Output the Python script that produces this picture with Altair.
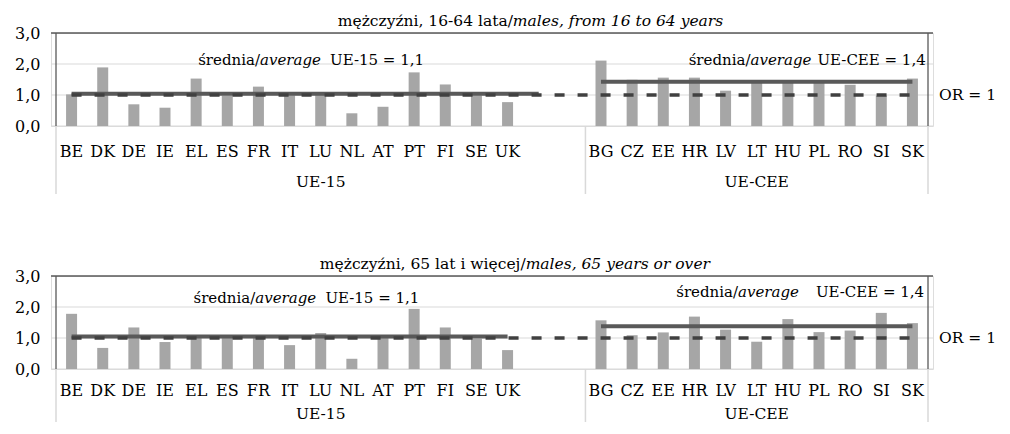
import altair as alt
import pandas as pd

# ---------------- data ----------------
countries_ue15 = ["BE", "DK", "DE", "IE", "EL", "ES", "FR", "IT", "LU", "NL", "AT", "PT", "FI", "SE", "UK"]
countries_cee = ["BG", "CZ", "EE", "HR", "LV", "LT", "HU", "PL", "RO", "SI", "SK"]

young_ue15 = [1.02, 1.89, 0.70, 0.59, 1.53, 0.98, 1.27, 0.99, 1.00, 0.41, 0.62, 1.73, 1.34, 0.99, 0.77]
young_cee = [2.11, 1.49, 1.56, 1.56, 1.14, 1.45, 1.47, 1.46, 1.33, 0.98, 1.53]
old_ue15 = [1.78, 0.68, 1.34, 0.87, 1.00, 1.00, 1.00, 0.77, 1.16, 0.33, 1.00, 1.94, 1.34, 0.98, 0.61]
old_cee = [1.57, 1.09, 1.18, 1.69, 1.27, 0.88, 1.61, 1.19, 1.24, 1.81, 1.48]

avg_young = [1.04, 1.43]
avg_old = [1.05, 1.38]
groups = ["UE-15", "UE-CEE"]
y_ticks = [0, 1, 2, 3]

# slot positions on the category axis (two empty slots after UK)
slots_ue15 = list(range(15))
slots_cee = list(range(17, 28))

FONT = "DejaVu Serif"
W, H = 882, 93
BAR = "#a6a6a6"
LIGHT = "#d9d9d9"
FRAME = "#595959"
XS = alt.Scale(domain=[-0.5, 27.5], nice=False, zero=False)
YS = alt.Scale(domain=[0, 3], nice=False)
YAX = alt.Axis(
    values=y_ticks, grid=False, ticks=False, domain=False,
    labelExpr="replace(format(datum.value, '.1f'), '.', ',')",
    labelFont=FONT, labelFontSize=16, labelColor="black",
    labelPadding=11, minExtent=42, maxExtent=42, title=None)


def xq(f="x"):
    return alt.X(f"{f}:Q", scale=XS, axis=None)


def yq(f="y"):
    return alt.Y(f"{f}:Q", scale=YS, axis=YAX)


def text_layer(t, x, align, italic=False, y=None, ypix=None, size=15):
    df = pd.DataFrame({"x": [x], "y": [y if y is not None else 0], "t": [t]})
    m = alt.Chart(df).mark_text(
        align=align, baseline="middle", font=FONT, fontSize=size,
        fontStyle="italic" if italic else "normal", color="black")
    enc = dict(x=xq(), text="t:N")
    if ypix is not None:
        enc["y"] = alt.value(ypix)
    else:
        enc["y"] = yq()
    return m.encode(**enc)


def panel(v15, vcee, avgs, end15, title_n, title_i, tsplit, ann15, anncee, sep_len, lab_off, grp_off):
    bars_df = pd.DataFrame({
        "x": slots_ue15 + slots_cee,
        "y": v15 + vcee,
        "c": countries_ue15 + countries_cee,
    })
    grid = alt.Chart(pd.DataFrame({"y": [0, 1, 2]})).mark_rule(
        color=LIGHT, strokeWidth=1).encode(y=yq())
    frame_h = alt.Chart(pd.DataFrame({"y": [3]})).mark_rule(
        color=FRAME, strokeWidth=1.3).encode(y=yq())
    frame_v = alt.Chart(pd.DataFrame({"x": [-0.5, 27.5]})).mark_rule(
        color=FRAME, strokeWidth=1.3).encode(x=xq())
    bars = alt.Chart(bars_df).mark_bar(size=11, color=BAR).encode(x=xq(), y=yq())
    avg_df = pd.DataFrame({
        "x": [0, end15, 17, 27],
        "y": [avgs[0], avgs[0], avgs[1], avgs[1]],
        "g": ["a", "a", "b", "b"],
    })
    avg = alt.Chart(avg_df).mark_line(color="#595959", strokeWidth=4).encode(
        x=xq(), y=yq(), detail="g:N")
    or_df = pd.DataFrame({"x": [0, 27], "y": [1, 1]})
    orl = alt.Chart(or_df).mark_line(color="#404040", strokeWidth=3.5,
                                     strokeDash=[10, 13]).encode(x=xq(), y=yq())
    or_txt = alt.Chart(pd.DataFrame({"y": [1], "t": ["OR = 1"]})).mark_text(
        align="left", baseline="middle", font=FONT, fontSize=15.5, color="black"
    ).encode(x=alt.value(W + 6), y=yq(), text="t:N")
    clabels = alt.Chart(bars_df).mark_text(
        baseline="middle", font=FONT, fontSize=16, color="black"
    ).encode(x=xq(), y=alt.value(H + lab_off), text="c:N")
    glabels = alt.Chart(pd.DataFrame({"x": [8.0, 22.0], "t": groups})).mark_text(
        baseline="middle", font=FONT, fontSize=15.5, color="black"
    ).encode(x=xq(), y=alt.value(H + grp_off), text="t:N")
    seps = alt.Chart(pd.DataFrame({"x": [-0.5, 16.5, 27.5]})).mark_rule(
        color=LIGHT, strokeWidth=1.5
    ).encode(x=xq(), y=alt.value(H), y2=alt.value(H + sep_len))

    texts = [
        text_layer(title_n, tsplit, "right", ypix=-12, size=15.5),
        text_layer(title_i, tsplit, "left", italic=True, ypix=-12, size=15.5),
    ]
    for (seg, y) in ((ann15[0], ann15[1]), (anncee[0], anncee[1])):
        (t1, x1), (t2, x2), (t3, x3) = seg
        texts.append(text_layer(t1, x1, "right", y=y))
        texts.append(text_layer(t2, x1, "left", italic=True, y=y))
        texts.append(text_layer(t3, x3, "left", y=y))

    return alt.layer(grid, bars, avg, orl, frame_h, frame_v, or_txt, clabels, glabels,
                     seps, *texts).properties(width=W, height=H)


top = panel(
    young_ue15, young_cee, avg_young, 15,
    "mężczyźni, 16-64 lata/", "males, from 16 to 64 years", 14.17,
    ((("średnia/", 6.05), ("average", 6.05), ("UE-15 = 1,1", 8.3)), 2.14),
    ((("średnia/", 21.8), ("average", 21.8), ("UE-CEE = 1,4", 23.95)), 2.14),
    68, 26, 56,
)
bottom = panel(
    old_ue15, old_cee, avg_old, 14,
    "mężczyźni, 65 lat i więcej/", "males, 65 years or over", 14.58,
    ((("średnia/", 5.9), ("average", 5.9), ("UE-15 = 1,1", 8.15)), 2.29),
    ((("średnia/", 21.4), ("average", 21.4), ("UE-CEE = 1,4", 23.9)), 2.5),
    53, 22, 45,
)

chart = alt.vconcat(top, bottom, spacing=60).properties(
    padding={"left": 0, "top": 5, "right": 0, "bottom": 0}
).configure_view(stroke=None).configure(background="white")

chart.save("out.html", embed_options={"renderer": "svg", "actions": False})
